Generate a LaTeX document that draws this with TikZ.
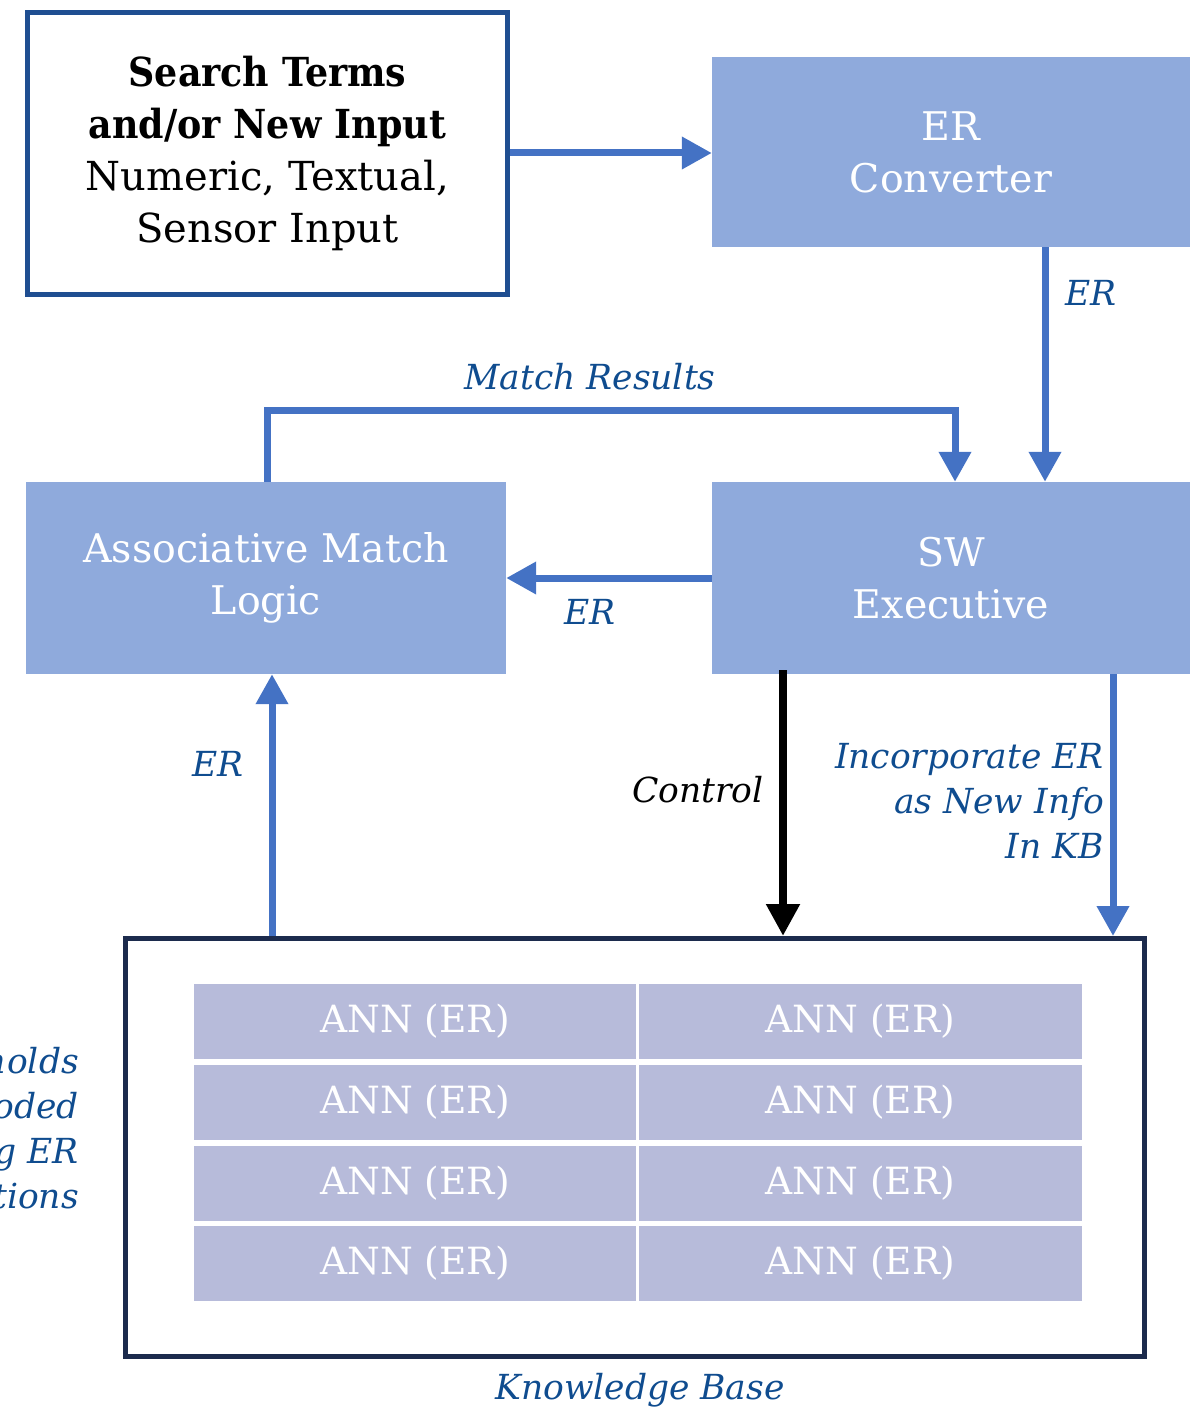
\documentclass[tikz,border=0pt]{standalone}
\usepackage{fontspec}
\setmainfont[BoldFeatures={FakeStretch=0.91}]{DejaVu Serif}
\usetikzlibrary{arrows.meta}
\definecolor{flow}{HTML}{4472C4}
\definecolor{boxfill}{HTML}{8FAADC}
\definecolor{deepblue}{HTML}{0F4C8F}
\definecolor{inkbox}{HTML}{1F4E91}
\definecolor{kbline}{HTML}{1C2B4D}
\definecolor{cellfill}{HTML}{B7BBDA}
\begin{document}
\begin{tikzpicture}[x=1pt,y=-1pt,
  stage/.style={rectangle,fill=boxfill,draw=none,inner sep=0pt,text=white,align=center,
    font=\fontsize{39.5}{52}\selectfont},
  cell/.style={rectangle,fill=cellfill,draw=none,inner sep=0pt,text=white,
    minimum width=442pt,minimum height=75pt,font=\fontsize{37.5}{40}\selectfont},
  flowarrow/.style={draw=flow,line width=7pt,-{Triangle[width=31pt,length=30pt]},line join=miter},
  ctrlarrow/.style={draw=black,line width=8pt,-{Triangle[width=32pt,length=32pt]}},
  note/.style={text=deepblue,font=\fontsize{34.5}{45}\selectfont\itshape,inner sep=0pt}]
\useasboundingbox (0,0) rectangle (1190,1407);

% input box
\node[draw=inkbox,line width=5pt,minimum width=480pt,minimum height=282pt,inner sep=0pt,
  align=center,font=\fontsize{40}{52}\selectfont] (input) at (267.5,153.5)
  {\textbf{Search Terms}\\\textbf{and/or New Input}\\Numeric, Textual,\\Sensor Input};

% processing stages
\node[stage,minimum width=478pt,minimum height=190pt] (conv) at (951,152) {ER\\Converter};
\node[stage,minimum width=478pt,minimum height=192pt] (sw) at (951,578) {SW\\Executive};
\node[stage,minimum width=480pt,minimum height=192pt] (aml) at (266,578) {Associative Match\\Logic};

% knowledge base
\node[draw=kbline,line width=5pt,minimum width=1019pt,minimum height=418pt,inner sep=0pt]
  (kb) at (635,1147.5) {};
\foreach \r/\y in {1/1021,2/1102,3/1183,4/1263}{
  \node[cell] (l\r) at (415,\y) {ANN (ER)};
  \node[cell,minimum width=443pt] (r\r) at (860.5,\y) {ANN (ER)};
}

% connectors
\draw[flowarrow] (input.east |- 0,153) -- (conv.west |- 0,153);
\draw[flowarrow] (1045,0 |- conv.south) -- (1045,0 |- sw.north);
\node[note] (erA) at (1091,293) {ER};
\coordinate (mrtop) at (600,410);
\draw[flowarrow] (267,0 |- aml.north) |- (mrtop) -| (955,0 |- sw.north);
\node[note] (mr) at (590,377) {Match Results};
\draw[flowarrow] (sw.west) -- (aml.east);
\node[note] (erB) at (590,612) {ER};
\draw[flowarrow] (272,0 |- kb.north) -- (272,0 |- aml.south);
\node[note] (erC) at (218,764) {ER};
\draw[ctrlarrow] (783,670) -- (783,0 |- kb.north);
\node[note,text=black] (ctl) at (698,790) {Control};
\draw[flowarrow] (1113,0 |- sw.south) -- (1113,0 |- kb.north);
\node[note,anchor=east,align=right] (inc) at (1104,801) {Incorporate ER\\as New Info\\In KB};
\node[note,anchor=east,align=right] (holds) at (79,1131) {holds\\encoded\\using ER\\representations};
\node[note] (kbname) at (640,1390) {Knowledge Base};
\end{tikzpicture}
\end{document}
